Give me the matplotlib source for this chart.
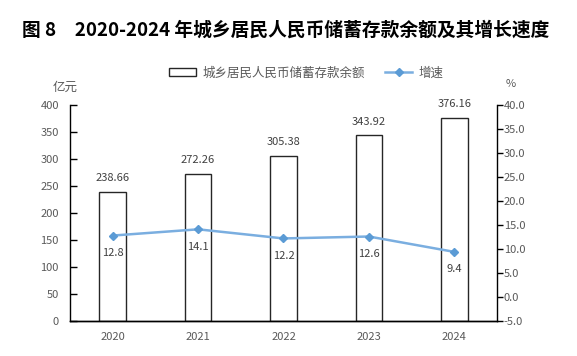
import numpy as np
import matplotlib.pyplot as plt
from matplotlib.lines import Line2D
from matplotlib.patches import Patch

plt.rcParams['font.family'] = ['Noto Sans CJK SC', 'DejaVu Sans']

years = ["2020", "2021", "2022", "2023", "2024"]
deposits = [238.66, 272.26, 305.38, 343.92, 376.16]   # 亿元
growth = [12.8, 14.1, 12.2, 12.6, 9.4]                 # %

gray = "#595959"
x = np.arange(len(years))

fig = plt.figure(figsize=(5.77, 3.56), dpi=100)
ax = fig.add_axes([70/577, 1-321/356, 427/577, 216/356])
ax2 = ax.twinx()

ax.bar(x, deposits, width=0.31, facecolor="white", edgecolor="#262626", lw=1.0, zorder=2)
for xi, v in zip(x, deposits):
    ax.text(xi, v + 16, f"{v:.2f}", ha="center", va="bottom", fontsize=8, color="#404040")

ax2.plot(x, growth, color="#7aaee0", lw=1.8, marker="D", ms=4.5,
         mfc="#5b9bd5", mec="#5b9bd5", zorder=3)
for xi, v in zip(x, growth):
    ax2.text(xi, v - 2.6, f"{v:.1f}", ha="center", va="top", fontsize=8, color="#404040")

ax.set_xlim(-0.5, 4.5)
ax.set_ylim(0, 400)
ax.set_yticks(range(0, 401, 50))
ax2.set_ylim(-5, 40)
ax2.set_yticks(np.arange(-5, 40.1, 5))
ax2.set_yticklabels([f"{t:.1f}" for t in np.arange(-5, 40.1, 5)])

ax.set_xticks(x)
ax.set_xticklabels(years)
ax.tick_params(axis="x", length=0, pad=8, labelsize=8, labelcolor=gray)
ax.tick_params(axis="y", direction="in", length=5, width=1, labelsize=8, labelcolor=gray, pad=8)
ax2.tick_params(axis="y", direction="out", length=4, width=1, labelsize=8, labelcolor=gray, pad=1)

for a in (ax, ax2):
    a.spines["top"].set_visible(False)
    for s in ("left", "right", "bottom"):
        a.spines[s].set_color("black")
        a.spines[s].set_linewidth(1)
ax.spines["right"].set_visible(False)
ax2.spines["left"].set_visible(False)

fig.text(65/577, 1-87/356, "亿元", ha="center", va="center", fontsize=9, color=gray)
fig.text(511/577, 1-84/356, "%", ha="center", va="center", fontsize=8, color=gray)

fig.text(286/577, 1-30/356, "图 8　2020-2024 年城乡居民人民币储蓄存款余额及其增长速度",
         ha="center", va="center", fontsize=13.5, fontweight="bold", color="black")

handles = [Patch(facecolor="white", edgecolor="#262626", lw=1.0),
           Line2D([], [], color="#7aaee0", lw=1.8, marker="D", ms=4.5,
                  mfc="#5b9bd5", mec="#5b9bd5")]
fig.legend(handles, ["城乡居民人民币储蓄存款余额", "增速"], loc="center",
           bbox_to_anchor=(306/577, 1-73/356), ncol=2, frameon=False, fontsize=9,
           labelcolor=gray, handlelength=2.2, handleheight=0.6, columnspacing=1.6,
           handletextpad=0.5)

fig.savefig("out.png", dpi=100)
